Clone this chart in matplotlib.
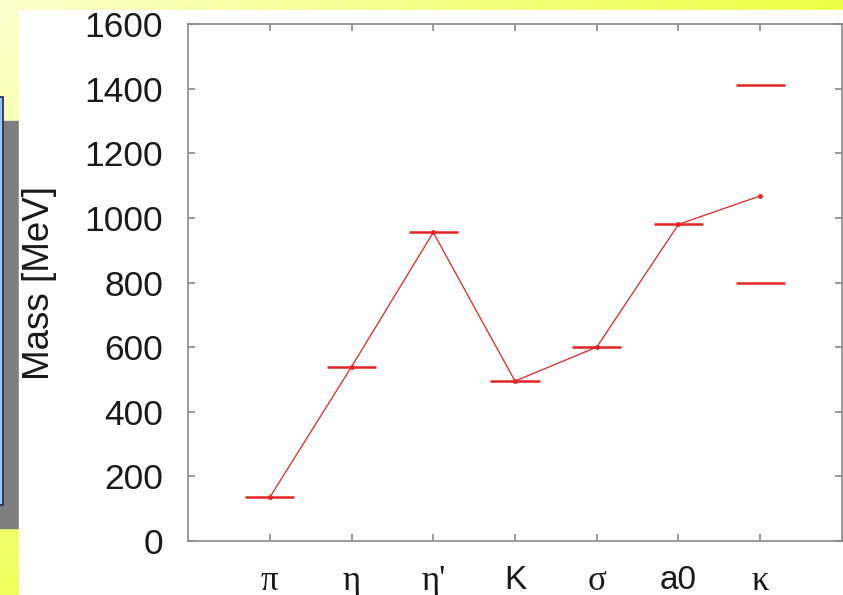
import numpy as np
import matplotlib
matplotlib.use('Agg')
import matplotlib.pyplot as plt
from matplotlib.patches import Rectangle

# mesons on the x axis
mesons = ['π', 'η', "η'", 'K', 'σ', 'a0', 'κ']
greek = {'π', 'η', "η'", 'σ', 'κ'}

# model masses (line through the points) [MeV]
model_mass = [135, 539, 955, 495, 600, 980, 1068]

# experimental masses (short horizontal bars) [MeV]
exp_meson = ['π', 'η', "η'", 'K', 'σ', 'a0', 'κ', 'κ']
exp_mass = [135, 539, 955, 495, 600, 980, 800, 1410]

y_ticks = [0, 200, 400, 600, 800, 1000, 1200, 1400, 1600]

RED = '#e42424'
GRAY = '#8a8a8a'

W, H = 843, 595
fig = plt.figure(figsize=(W / 100, H / 100), dpi=100)

# slide background: yellow gradient, white card, blue box with shadow
bg = fig.add_axes([0, 0, 1, 1])
bg.set_xlim(0, W)
bg.set_ylim(H, 0)
bg.axis('off')
gx, gy = np.meshgrid(np.linspace(0, 1, 200), np.linspace(0, 1, 200))
t = np.clip(0.75 * gx + 0.6 * gy, 0, 1)
c0 = np.array([0.99, 1.0, 0.80])
c1 = np.array([0.91, 1.0, 0.08])
grad = c0[None, None, :] * (1 - t[..., None]) + c1[None, None, :] * t[..., None]
bg.imshow(grad, extent=[0, W, H, 0], aspect='auto', zorder=0)
bg.add_patch(Rectangle((0, 121), 19, 407, color='#7f7f7f', zorder=1))
bg.add_patch(Rectangle((-5, 97), 8, 408, facecolor='#9cc4ee',
                       edgecolor='#1a2a4a', lw=1.2, zorder=2))
bg.add_patch(Rectangle((19, 10), W - 19, H - 10, color='white', zorder=3))

ax = fig.add_axes([188 / W, (H - 541) / H, (842 - 188) / W, (541 - 24) / H])
ax.set_facecolor('white')

x_pos = {m: i + 1 for i, m in enumerate(mesons)}
xs = [x_pos[m] for m in mesons]
ax.plot(xs, model_mass, color=RED, lw=0.9, marker='o', ms=2.5, zorder=3)

ex = np.array([x_pos[m] for m in exp_meson])
ax.hlines(exp_mass, ex - 0.3, ex + 0.3, color=RED, lw=1.8, zorder=3)

ax.set_xlim(0, 8)
ax.set_ylim(0, 1600)
ax.set_xticks(xs)
ax.set_xticklabels(mesons)
ax.set_yticks(y_ticks)
ax.set_yticklabels([str(v) for v in y_ticks])
for lab in ax.get_xticklabels():
    if lab.get_text() in greek:
        lab.set_family(['Liberation Serif', 'DejaVu Serif'])
        lab.set_fontsize(25)
    else:
        lab.set_family(['Liberation Sans', 'DejaVu Sans'])
        lab.set_fontsize(24)
for lab in ax.get_yticklabels():
    lab.set_family(['Liberation Sans', 'DejaVu Sans'])
    lab.set_fontsize(25.5)
    lab.set_color('#1a1a1a')

ax.tick_params(direction='in', length=5, width=1.2, color=GRAY,
               top=True, right=True, pad=18, labelcolor='#1a1a1a')
ax.tick_params(axis='x', pad=17)
for s in ax.spines.values():
    s.set_color(GRAY)
    s.set_linewidth(1.2)

ax.set_ylabel('Mass [MeV]', family=['Liberation Sans', 'DejaVu Sans'],
              fontsize=26.5, color='#1a1a1a', labelpad=20)

fig.savefig('out.png', dpi=100)
